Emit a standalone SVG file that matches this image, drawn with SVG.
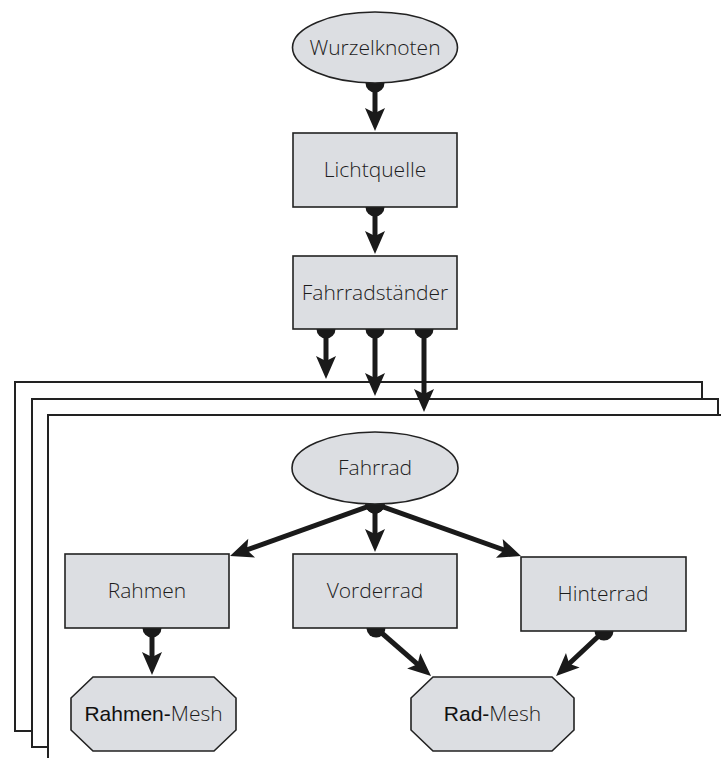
<svg xmlns="http://www.w3.org/2000/svg" width="721" height="758" viewBox="0 0 721 758">
<defs>
<style>
.frame{fill:#fff;stroke:#222;stroke-width:2}
.node{fill:#dcdee2;stroke:#222;stroke-width:1.6}
.lbl{font-family:"Open Sans","Noto Sans",sans-serif;font-size:21px;font-weight:300;fill:#1c1c1c;text-anchor:middle}
.bold{font-family:"Liberation Sans",Arial,sans-serif;font-weight:400;fill:#111}
.edge{fill:none;stroke:#1a1a1a;stroke-width:5;marker-start:url(#dot);marker-end:url(#arr)}
</style>
<marker id="arr" markerUnits="userSpaceOnUse" viewBox="-12 -12 26 24" markerWidth="26" markerHeight="24" refX="0" refY="0" orient="auto">
<path d="M12,0 L-11,-10 L-6,0 L-11,10 Z" fill="#1a1a1a"/>
</marker>
<marker id="dot" markerUnits="userSpaceOnUse" viewBox="-11 -11 22 22" markerWidth="22" markerHeight="22" refX="0" refY="0" orient="auto">
<circle cx="0" cy="0" r="9.5" fill="#1a1a1a"/>
</marker>
</defs>
<rect width="721" height="758" fill="#fff"/>
<g id="frames">
<rect class="frame" x="15" y="382" width="687" height="349"/>
<rect class="frame" x="32" y="399" width="686" height="348"/>
<rect class="frame" x="48" y="415" width="690" height="360"/>
</g>
<g id="connectors">
<path class="edge" d="M375,83 L375,119"/>
<path class="edge" d="M375,207 L375,242"/>
<path class="edge" d="M326,329 L326,367"/>
<path class="edge" d="M375,329 L375,384"/>
<path class="edge" d="M424,329 L424,400"/>
<path class="edge" d="M375,504 L375,540"/>
<path class="edge" d="M375,504 L241.3,551.9"/>
<path class="edge" d="M375,504 L509.7,552"/>
<path class="edge" d="M152,628 L152,663"/>
<path class="edge" d="M376,628 L422,668.1"/>
<path class="edge" d="M604,631 L564.8,667.8"/>
</g>
<g id="wurzelknoten">
<ellipse class="node" cx="375" cy="47.5" rx="82.5" ry="35.5"/>
<text class="lbl" x="375" y="55">Wurzelknoten</text>
</g>
<g id="lichtquelle">
<rect class="node" x="293" y="133" width="164" height="74"/>
<text class="lbl" x="375" y="177">Lichtquelle</text>
</g>
<g id="fahrradstaender">
<rect class="node" x="293" y="256" width="164" height="73"/>
<text class="lbl" x="375" y="300">Fahrradständer</text>
</g>
<g id="fahrrad">
<ellipse class="node" cx="375" cy="468" rx="83" ry="36"/>
<text class="lbl" x="375" y="475">Fahrrad</text>
</g>
<g id="rahmen">
<rect class="node" x="65" y="554" width="164" height="74"/>
<text class="lbl" x="147" y="598">Rahmen</text>
</g>
<g id="vorderrad">
<rect class="node" x="293" y="554" width="164" height="74"/>
<text class="lbl" x="375" y="598">Vorderrad</text>
</g>
<g id="hinterrad">
<rect class="node" x="521" y="557" width="165" height="74"/>
<text class="lbl" x="603" y="601">Hinterrad</text>
</g>
<g id="rahmen-mesh">
<polygon class="node" points="93,677 214,677 236,698 236,730 214,751 93,751 71,730 71,698"/>
<text class="lbl" x="153.5" y="721"><tspan class="bold">Rahmen-</tspan>Mesh</text>
</g>
<g id="rad-mesh">
<polygon class="node" points="433,677 552,677 574,698 574,730 552,751 433,751 411,730 411,698"/>
<text class="lbl" x="492.5" y="721"><tspan class="bold">Rad-</tspan>Mesh</text>
</g>
</svg>
